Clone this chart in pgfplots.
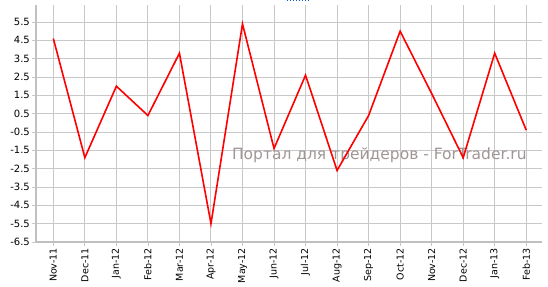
\documentclass[border=0pt]{standalone}
\usepackage{pgfplots}
\pgfplotsset{compat=1.18}
\usepackage{fontspec}
\setmainfont{DejaVu Sans}
\definecolor{gridc}{RGB}{200,200,200}
\definecolor{axc}{RGB}{192,192,192}
\definecolor{wm}{RGB}{160,150,150}
\definecolor{linkblue}{RGB}{20,90,200}
\begin{document}
\begin{tikzpicture}
\begin{axis}[
  scale only axis,
  width=506pt, height=237pt,
  xmin=-0.55, xmax=15.5,
  ymin=-6.5, ymax=6.43,
  xtick={0,...,15},
  xticklabels={Nov-11,Dec-11,Jan-12,Feb-12,Mar-12,Apr-12,May-12,Jun-12,Jul-12,Aug-12,Sep-12,Oct-12,Nov-12,Dec-12,Jan-13,Feb-13},
  ytick={-6.5,-5.5,...,5.5},
  yticklabel style={/pgf/number format/fixed,/pgf/number format/precision=1,/pgf/number format/fixed zerofill,font=\fontsize{10}{12}\selectfont,inner xsep=2pt},
  /pgf/number format/assume math mode=true,
  xticklabel style={rotate=90,anchor=east,font=\fontsize{9.5}{11}\selectfont,inner xsep=2pt},
  grid=major,
  major grid style={gridc,line width=1pt},
  axis line style={draw=none},
  axis x line*=bottom, axis y line*=left,
  tick style={gridc,line width=0.8pt},
  major tick length=4pt,
  tick align=outside,
  clip=false,
]
\draw[axc,line width=2pt] (rel axis cs:0,0) -- (rel axis cs:0,1);
\draw[axc,line width=2.5pt] (rel axis cs:0,0) -- (rel axis cs:1,0);
\node[anchor=base west,text=wm,font=\fontsize{15.5}{18}\selectfont,inner sep=0pt] at (rel axis cs:0.387,0.348) {Портал для трейдеров - ForTrader.ru};
\addplot[red,line width=1.6pt] coordinates {
(0,4.6) (1,-1.9) (2,2.0) (3,0.4) (4,3.8) (5,-5.5) (6,5.4) (7,-1.4) (8,2.6) (9,-2.6) (10,0.4) (11,5.0) (12,1.6) (13,-1.9) (14,3.8) (15,-0.4)};
\end{axis}
\draw[linkblue,line width=1pt,dotted] ([xshift=250.7pt,yshift=4.5pt]current axis.north west) -- ++(22pt,0);
\pgfresetboundingbox
\path ([xshift=-36pt,yshift=-45pt]current axis.south west) rectangle ([xshift=6pt,yshift=5pt]current axis.north east);
\end{tikzpicture}
\end{document}
